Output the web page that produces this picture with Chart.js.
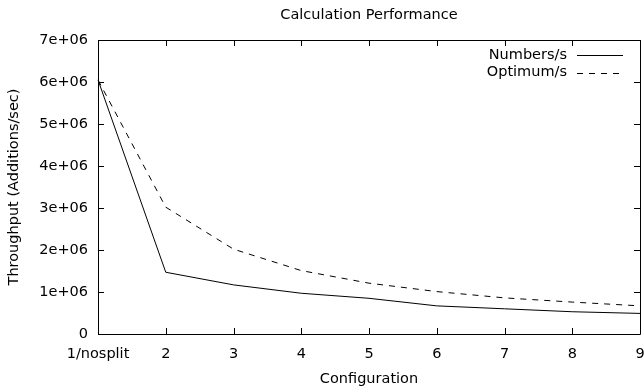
<!DOCTYPE html>
<html>
<head>
<meta charset="utf-8">
<script src="https://cdn.jsdelivr.net/npm/chart.js@4/dist/chart.umd.min.js"></script>
<style>
  html, body { margin: 0; padding: 0; background: #fff; }
  #wrap { width: 644px; height: 388px; }
</style>
</head>
<body>
<div id="wrap"><canvas id="c" width="644" height="388"></canvas></div>
<script>
const categories = ['1/nosplit', '2', '3', '4', '5', '6', '7', '8', '9'];
const numbersPerSec = [6050000, 1470000, 1170000, 970000, 850000, 670000, 600000, 530000, 490000];
const optimumPerSec = [6050000, 3020000, 2020000, 1510000, 1210000, 1010000, 860000, 760000, 670000];
const yTickValues = [0, 1000000, 2000000, 3000000, 4000000, 5000000, 6000000, 7000000];
const yTickLabels = ['0', '1e+06', '2e+06', '3e+06', '4e+06', '5e+06', '6e+06', '7e+06'];
const titleText = 'Calculation Performance';
const xTitle = 'Configuration';
const yTitle = 'Throughput (Additions/sec)';

const FONT = 'DejaVu Sans';
const FS = 14.5;

const framePlugin = {
  id: 'frame',
  afterDatasetsDraw(chart) {
    const {ctx, chartArea: a, scales: {x, y}} = chart;
    ctx.save();
    ctx.strokeStyle = '#000';
    ctx.lineWidth = 1;
    ctx.beginPath();
    ctx.rect(Math.round(a.left) + 0.5, Math.round(a.top) + 0.5,
             Math.round(a.right - a.left), Math.round(a.bottom - a.top));
    ctx.stroke();
    const tl = 6;
    ctx.beginPath();
    for (let i = 0; i < categories.length; i++) {
      const px = Math.round(x.getPixelForValue(i)) + 0.5;
      ctx.moveTo(px, a.bottom); ctx.lineTo(px, a.bottom - tl);
      ctx.moveTo(px, a.top); ctx.lineTo(px, a.top + tl);
    }
    for (const v of yTickValues) {
      const py = Math.round(y.getPixelForValue(v)) + 0.5;
      ctx.moveTo(a.left, py); ctx.lineTo(a.left + tl, py);
      ctx.moveTo(a.right, py); ctx.lineTo(a.right - tl, py);
    }
    ctx.stroke();

    // key (legend) inside top-right
    ctx.font = FS + 'px "' + FONT + '"';
    ctx.fillStyle = '#000';
    ctx.textAlign = 'right';
    ctx.textBaseline = 'middle';
    const textRight = 567, x0 = 577, x1 = 623;
    chart.data.datasets.forEach((ds, i) => {
      const yy = 55 + i * 17.5;
      ctx.fillText(ds.label, textRight, yy);
      ctx.beginPath();
      ctx.setLineDash(ds.borderDash || []);
      ctx.moveTo(x0, Math.round(yy) + 0.5);
      ctx.lineTo(x1, Math.round(yy) + 0.5);
      ctx.stroke();
    });
    ctx.setLineDash([]);
    ctx.restore();
  }
};

new Chart(document.getElementById('c'), {
  type: 'line',
  data: {
    labels: categories,
    datasets: [
      { label: 'Numbers/s', data: numbersPerSec, borderColor: '#000', borderWidth: 1,
        pointRadius: 0, tension: 0, fill: false },
      { label: 'Optimum/s', data: optimumPerSec, borderColor: '#000', borderWidth: 1,
        borderDash: [6, 6], pointRadius: 0, tension: 0, fill: false }
    ]
  },
  options: {
    responsive: false,
    animation: false,
    devicePixelRatio: 1,
    layout: { padding: { left: 0, right: 4, top: 0, bottom: 0 } },
    plugins: {
      legend: { display: false },
      tooltip: { enabled: false },
      title: {
        display: true, text: titleText, color: '#000', fullSize: false,
        font: { family: FONT, size: FS, weight: 'normal' },
        padding: { top: 7, bottom: 15.6 }
      }
    },
    scales: {
      x: {
        type: 'category',
        offset: false,
        grid: { display: false, drawTicks: false },
        border: { display: false },
        ticks: { color: '#000', font: { family: FONT, size: FS }, padding: 12,
                 maxRotation: 0, autoSkip: false },
        title: { display: true, text: xTitle, color: '#000',
                 font: { family: FONT, size: FS }, padding: { top: 0, bottom: 0 } },
        afterFit(s) { s.height = 54; s.paddingRight = 0; s.paddingLeft = 0; }
      },
      y: {
        min: 0, max: 7000000,
        grid: { display: false, drawTicks: false },
        border: { display: false },
        afterBuildTicks(s) { s.ticks = yTickValues.map(v => ({ value: v })); },
        ticks: { color: '#000', font: { family: FONT, size: FS }, padding: 10,
                 callback: (v) => yTickLabels[yTickValues.indexOf(v)] },
        title: { display: true, text: yTitle, color: '#000',
                 font: { family: FONT, size: FS }, padding: { top: 6, bottom: 0 } },
        afterFit(s) { s.width = 98; s.paddingTop = 0; s.paddingBottom = 0; }
      }
    }
  },
  plugins: [framePlugin]
});
</script>
</body>
</html>
